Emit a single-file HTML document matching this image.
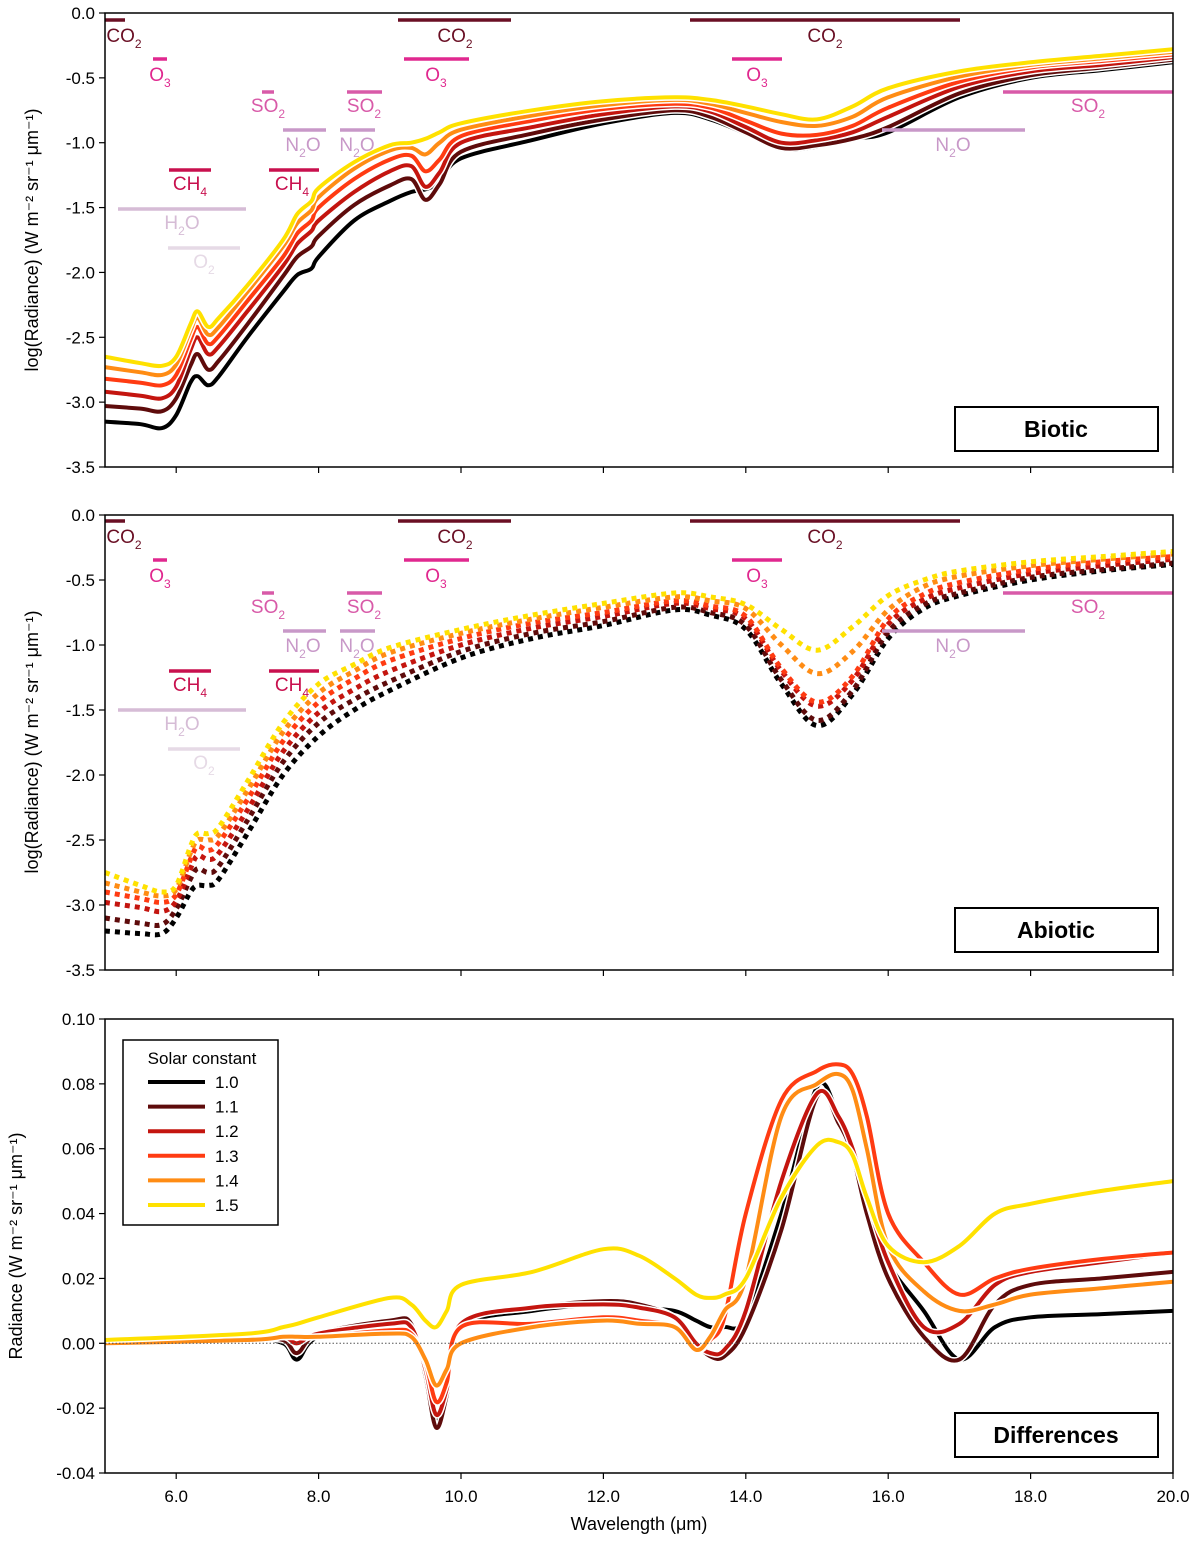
<!DOCTYPE html>
<html><head><meta charset="utf-8"><style>
body{margin:0;background:#fff;font-family:"Liberation Sans",sans-serif}
svg text{font-family:"Liberation Sans",sans-serif}
</style></head><body>
<svg id="chart" width="1200" height="1541" xmlns="http://www.w3.org/2000/svg"></svg>
<script>
const NS="http://www.w3.org/2000/svg";
const svg=document.getElementById('chart');
const seriesNames=['1.0','1.1','1.2','1.3','1.4','1.5'];
const colors=['#000000','#5e0b0b','#c4150f','#ff3b12','#ff8c14','#ffe100'];
const xTicks=[6,8,10,12,14,16,18,20];
const specTicks=[0,-0.5,-1,-1.5,-2,-2.5,-3,-3.5];
const diffTicks=[0.10,0.08,0.06,0.04,0.02,0,-0.02,-0.04];
// biotic
const wlB=[5.0,5.5,5.8,6.0,6.2,6.3,6.45,6.6,7.0,7.5,7.7,7.9,8.0,8.5,9.0,9.3,9.5,9.7,10.0,11,12,13,13.5,14,14.5,15,15.5,16,17,18,19,20];
const bio10=[-3.15,-3.17,-3.2,-3.1,-2.85,-2.8,-2.87,-2.8,-2.5,-2.15,-2.02,-1.97,-1.88,-1.6,-1.45,-1.38,-1.36,-1.3,-1.12,-0.98,-0.85,-0.77,-0.82,-0.93,-1.05,-1.03,-0.97,-0.92,-0.65,-0.5,-0.44,-0.38];
const bio11=[-3.03,-3.05,-3.07,-2.97,-2.72,-2.63,-2.75,-2.68,-2.4,-2.03,-1.88,-1.8,-1.72,-1.48,-1.33,-1.28,-1.44,-1.32,-1.07,-0.93,-0.82,-0.75,-0.8,-0.92,-1.04,-1.02,-0.97,-0.88,-0.62,-0.48,-0.42,-0.36];
const bio12=[-2.92,-2.95,-2.97,-2.88,-2.6,-2.5,-2.63,-2.57,-2.3,-1.95,-1.78,-1.68,-1.6,-1.38,-1.22,-1.18,-1.34,-1.23,-1.0,-0.88,-0.78,-0.72,-0.76,-0.88,-1.0,-0.98,-0.92,-0.8,-0.57,-0.45,-0.4,-0.34];
const bio13=[-2.82,-2.85,-2.87,-2.79,-2.52,-2.42,-2.55,-2.49,-2.22,-1.88,-1.7,-1.6,-1.5,-1.28,-1.13,-1.1,-1.22,-1.13,-0.95,-0.83,-0.74,-0.7,-0.73,-0.83,-0.93,-0.94,-0.87,-0.73,-0.53,-0.42,-0.37,-0.32];
const bio14=[-2.73,-2.77,-2.79,-2.71,-2.45,-2.35,-2.48,-2.42,-2.15,-1.8,-1.62,-1.52,-1.42,-1.2,-1.06,-1.04,-1.09,-1.0,-0.9,-0.79,-0.71,-0.67,-0.7,-0.77,-0.84,-0.87,-0.8,-0.65,-0.49,-0.4,-0.35,-0.3];
const bio15=[-2.65,-2.7,-2.72,-2.65,-2.4,-2.3,-2.42,-2.35,-2.1,-1.75,-1.55,-1.45,-1.35,-1.15,-1.02,-1.0,-0.97,-0.92,-0.85,-0.75,-0.68,-0.65,-0.67,-0.72,-0.78,-0.82,-0.72,-0.58,-0.45,-0.38,-0.33,-0.28];
// abiotic
const wlA=[5.0,5.5,5.8,6.0,6.2,6.3,6.45,6.6,7.0,7.5,8.0,8.5,9.0,10,11,12,13,13.5,14,14.5,15,15.5,16,16.5,17,18,19,20];
const abi10=[-3.2,-3.22,-3.22,-3.1,-2.9,-2.85,-2.85,-2.8,-2.45,-2.0,-1.7,-1.5,-1.35,-1.1,-0.95,-0.85,-0.73,-0.77,-0.88,-1.3,-1.62,-1.38,-0.95,-0.72,-0.62,-0.5,-0.43,-0.38];
const abi11=[-3.1,-3.14,-3.15,-3.03,-2.8,-2.72,-2.75,-2.7,-2.35,-1.9,-1.6,-1.42,-1.28,-1.05,-0.91,-0.82,-0.71,-0.75,-0.85,-1.27,-1.58,-1.35,-0.9,-0.69,-0.6,-0.48,-0.42,-0.37];
const abi12=[-2.98,-3.02,-3.05,-2.97,-2.72,-2.62,-2.65,-2.6,-2.27,-1.82,-1.52,-1.34,-1.2,-1.0,-0.87,-0.78,-0.68,-0.72,-0.8,-1.2,-1.47,-1.27,-0.84,-0.65,-0.56,-0.45,-0.39,-0.34];
const abi13=[-2.9,-2.95,-2.98,-2.92,-2.65,-2.55,-2.58,-2.52,-2.19,-1.74,-1.44,-1.26,-1.12,-0.95,-0.83,-0.75,-0.66,-0.7,-0.78,-1.18,-1.44,-1.24,-0.8,-0.61,-0.52,-0.42,-0.36,-0.32];
const abi14=[-2.83,-2.9,-2.93,-2.88,-2.6,-2.5,-2.5,-2.46,-2.12,-1.67,-1.37,-1.2,-1.06,-0.91,-0.8,-0.71,-0.63,-0.66,-0.72,-1.0,-1.22,-1.05,-0.73,-0.55,-0.47,-0.39,-0.34,-0.3];
const abi15=[-2.75,-2.85,-2.9,-2.85,-2.55,-2.45,-2.45,-2.4,-2.05,-1.6,-1.3,-1.15,-1.02,-0.88,-0.77,-0.68,-0.6,-0.63,-0.69,-0.88,-1.04,-0.86,-0.62,-0.5,-0.43,-0.36,-0.32,-0.28];
// differences
const wlD=[5.0,7.0,7.5,7.7,8.0,9.0,9.3,9.5,9.65,9.8,10.0,11,12,12.5,13,13.3,13.5,13.7,14,14.5,15,15.3,15.5,15.7,16,16.5,17,17.5,18,19,20];
const dif10=[0,0.001,0,-0.005,0.002,0.006,0.005,-0.01,-0.024,-0.015,0.005,0.01,0.012,0.011,0.01,0.007,0.005,0.005,0.008,0.04,0.079,0.07,0.06,0.045,0.025,0.01,-0.005,0.005,0.008,0.009,0.01];
const dif11=[0,0.001,0.001,-0.003,0.003,0.007,0.006,-0.01,-0.026,-0.016,0.006,0.011,0.013,0.012,0.008,0.0,-0.004,-0.004,0.005,0.035,0.076,0.068,0.058,0.04,0.02,0.002,-0.005,0.012,0.018,0.02,0.022];
const dif12=[0,0.001,0.002,0.0,0.003,0.006,0.005,-0.008,-0.022,-0.014,0.006,0.011,0.012,0.011,0.008,0.0,-0.003,-0.002,0.01,0.05,0.077,0.07,0.06,0.045,0.025,0.005,0.006,0.018,0.022,0.025,0.028];
const dif13=[0,0.001,0.002,0.002,0.002,0.004,0.003,-0.006,-0.018,-0.012,0.005,0.006,0.008,0.007,0.005,-0.002,0.001,0.008,0.04,0.075,0.084,0.086,0.083,0.07,0.04,0.025,0.015,0.02,0.023,0.026,0.028];
const dif14=[0,0.001,0.002,0.002,0.002,0.003,0.002,-0.005,-0.013,-0.008,0.0,0.005,0.007,0.006,0.005,-0.002,0.002,0.01,0.02,0.07,0.08,0.083,0.078,0.06,0.03,0.016,0.01,0.012,0.015,0.017,0.019];
const dif15=[0.001,0.003,0.005,0.006,0.008,0.014,0.012,0.007,0.005,0.01,0.018,0.022,0.029,0.027,0.02,0.015,0.014,0.015,0.02,0.045,0.061,0.062,0.058,0.045,0.03,0.025,0.03,0.04,0.043,0.047,0.05];

const X0=105,X1=1173;
const sx=w=>X0+(w-5)/15*(X1-X0);
function el(tag,attrs,parent){const e=document.createElementNS(NS,tag);for(const k in attrs)e.setAttribute(k,attrs[k]);(parent||svg).appendChild(e);return e;}
function txt(x,y,s,size,anchor,fill,parent,weight){const t=el('text',{x:x,y:y,'font-size':size,'text-anchor':anchor||'middle',fill:fill||'#000','font-weight':weight||'normal'},parent);t.textContent=s;return t;}

function panel(name,top,bottom,vmin,vmax,ticks,fmt){
  const g=el('g',{});
  
  
  const sy=v=>top+(vmax-v)/(vmax-vmin)*(bottom-top);
  ticks.forEach(t=>{
    el('line',{x1:X0-6,x2:X0,y1:sy(t),y2:sy(t),stroke:'#000','stroke-width':1.2},g);
    const tl=txt(X0-10,sy(t)+6,fmt(t),17,'end','#000',g);
    
    
  });
  xTicks.forEach(t=>{
    el('line',{x1:sx(t),x2:sx(t),y1:bottom,y2:bottom+6,stroke:'#000','stroke-width':1.2},g);
  });
  return {g,sy};
}
function smoothPath(pts){
  let d='M'+pts[0][0].toFixed(1)+','+pts[0][1].toFixed(1);
  for(let i=0;i<pts.length-1;i++){
    const p0=pts[Math.max(0,i-1)],p1=pts[i],p2=pts[i+1],p3=pts[Math.min(pts.length-1,i+2)];
    const c1=[p1[0]+(p2[0]-p0[0])/6,p1[1]+(p2[1]-p0[1])/6];
    const c2=[p2[0]-(p3[0]-p1[0])/6,p2[1]-(p3[1]-p1[1])/6];
    d+='C'+c1[0].toFixed(1)+','+c1[1].toFixed(1)+' '+c2[0].toFixed(1)+','+c2[1].toFixed(1)+' '+p2[0].toFixed(1)+','+p2[1].toFixed(1);
  }
  return d;
}
function drawLines(g,sy,wl,arrs,dotted){
  arrs.forEach((a,i)=>{
    const d=smoothPath(a.map((v,j)=>[sx(wl[j]),sy(v)]));
    if(!dotted){const h=el('path',{d:d,fill:'none',stroke:'#fff','stroke-width':7,'stroke-linejoin':'round'},g);
      }
    const p=el('path',{d:d,fill:'none',stroke:colors[i],'stroke-width':dotted?5:4,'stroke-linejoin':'round','stroke-dasharray':dotted?'5,5':'none'},g);
    
    
  });
}
function frame(top,bottom){el('rect',{x:X0,y:top,width:X1-X0,height:bottom-top,fill:'none',stroke:'#000','stroke-width':1.5});}
function labelBox(s,y){
  const r=el('rect',{x:955,y:y,width:203,height:44,fill:'#fff',stroke:'#000','stroke-width':2});
  
  const t=txt(1056,y+30,s,23,'middle','#000',svg,'bold');
  
}
const f1=v=>v.toFixed(1), f2=v=>v.toFixed(2);

const molC={CO2:'#6a0f24',O3:'#e0288f',SO2:'#d85aa8',N2O:'#c898c8',CH4:'#c8104e',H2O:'#d6bcd6',O2:'#e6dae6'};
function mol(key,x1,x2,y,lx,ly){
  const g=el('g',{});
  
  
  el('line',{x1:x1,x2:x2,y1:y,y2:y,stroke:molC[key],'stroke-width':3.5},g);
  const parts={CO2:['CO','2',''],O3:['O','3',''],SO2:['SO','2',''],N2O:['N','2','O'],CH4:['CH','4',''],H2O:['H','2','O'],O2:['O','2','']}[key];
  const t=el('text',{x:lx,y:ly,'font-size':19,'text-anchor':'middle',fill:molC[key]},g);
  const a=document.createElementNS(NS,'tspan');a.textContent=parts[0];t.appendChild(a);
  const b=document.createElementNS(NS,'tspan');b.setAttribute('font-size',12);b.setAttribute('dy',6);b.textContent=parts[1];t.appendChild(b);
  if(parts[2]){const c=document.createElementNS(NS,'tspan');c.setAttribute('dy',-6);c.textContent=parts[2];t.appendChild(c);}
}
function annots(o){
  mol('CO2',105,125,20+o,124,42+o);mol('CO2',398,511,20+o,455,42+o);mol('CO2',690,960,20+o,825,42+o);
  mol('O3',153,167,59+o,160,81+o);mol('O3',404,469,59+o,436,81+o);mol('O3',732,782,59+o,757,81+o);
  mol('SO2',262,274,92+o,268,112+o);mol('SO2',347,382,92+o,364,112+o);mol('SO2',1003,1173,92+o,1088,112+o);
  mol('N2O',283,326,130+o,303,151+o);mol('N2O',340,375,130+o,357,151+o);mol('N2O',882,1025,130+o,953,151+o);
  mol('CH4',169,211,170+o,190,190+o);mol('CH4',269,319,170+o,292,190+o);
  mol('H2O',118,246,209+o,182,229+o);
  mol('O2',168,240,248+o,204,268+o);
}

const p1=panel('biotic',13,467,-3.5,0,specTicks,f1);
annots(0);
drawLines(p1.g,p1.sy,wlB,[bio10,bio11,bio12,bio13,bio14,bio15],false);
frame(13,467);labelBox('Biotic',407);
const p2=panel('abiotic',515,970,-3.5,0,specTicks,f1);
annots(501);
drawLines(p2.g,p2.sy,wlA,[abi10,abi11,abi12,abi13,abi14,abi15],true);
frame(515,970);labelBox('Abiotic',908);
const p3=panel('differences',1019,1473,-0.04,0.10,diffTicks,f2);
const zl=el('line',{x1:X0,x2:X1,y1:p3.sy(0),y2:p3.sy(0),stroke:'#555','stroke-width':1,'stroke-dasharray':'1.5,2'});

drawLines(p3.g,p3.sy,wlD,[dif10,dif11,dif12,dif13,dif14,dif15],false);
frame(1019,1473);labelBox('Differences',1413);
xTicks.forEach(t=>{const l=txt(sx(t),1502,t.toFixed(1),17,'middle');});
const lg=el('g',{});


el('rect',{x:123,y:1040,width:155,height:185,fill:'#fff',stroke:'#000','stroke-width':1.5},lg);
txt(202,1064,'Solar constant',17,'middle','#000',lg);
seriesNames.forEach((s,i)=>{
  const y=1082+i*24.6;
  const e=el('g',{},lg);
  
  
  el('line',{x1:148,x2:205,y1:y,y2:y,stroke:colors[i],'stroke-width':4},e);
  txt(215,y+6,s,17,'start','#000',e);
});
const yt1=txt(38,240,'log(Radiance) (W m\u207B\u00B2 sr\u207B\u00B9 \u03BCm\u207B\u00B9)',18,'middle');
yt1.setAttribute('transform','rotate(-90 38 240)');
const yt2=txt(38,742,'log(Radiance) (W m\u207B\u00B2 sr\u207B\u00B9 \u03BCm\u207B\u00B9)',18,'middle');
yt2.setAttribute('transform','rotate(-90 38 742)');
const yt3=txt(22,1246,'Radiance (W m\u207B\u00B2 sr\u207B\u00B9 \u03BCm\u207B\u00B9)',18,'middle');
yt3.setAttribute('transform','rotate(-90 22 1246)');
const xt=txt(639,1530,'Wavelength (\u03BCm)',18,'middle');

</script>
</body></html>
